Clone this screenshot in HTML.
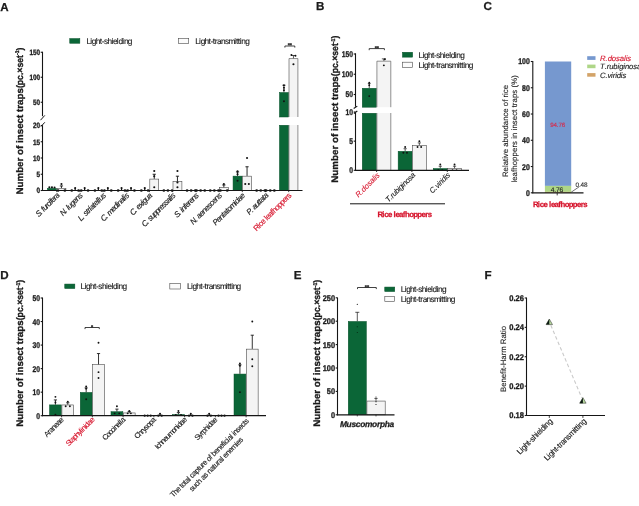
<!DOCTYPE html>
<html lang="en">
<head>
<meta charset="utf-8">
<title>Figure: insect trap counts under light-shielding and light-transmitting treatments</title>
<style>
html,body{margin:0;padding:0;background:#fff;}
body{width:639px;height:506px;overflow:hidden;font-family:"Liberation Sans",sans-serif;}
svg{display:block;will-change:transform;}
</style>
</head>
<body>
<svg width="639" height="506" viewBox="0 0 639 506" font-family="'Liberation Sans', sans-serif" fill="#1a1a1a" text-rendering="geometricPrecision">
<text x="0.2" y="10.5" font-size="11.6" font-weight="bold" stroke="#1a1a1a" stroke-width="0.25">A</text>
<rect x="69.75" y="38.55" width="10.1" height="4.7" fill="#0b6637" stroke="#07502a" stroke-width="0.5"/>
<text x="86.4 90.31 91.87 95.77 99.68 101.63 103.97 107.48 111.39 112.95 116.86 118.42 122.33 123.89 127.79" y="43.89" font-size="8.3" stroke="#1a1a1a" stroke-width="0.12">Light-shielding</text>
<rect x="178.3" y="38.3" width="10.4" height="5.2" fill="#fbfbfb" stroke="#4a4a4a" stroke-width="0.6"/>
<text x="195.2 199.12 200.68 204.6 208.51 210.47 212.81 214.77 217.11 221.03 224.94 228.46 234.33 235.89 237.85 239.8 241.37 245.28" y="43.89" font-size="8.3" stroke="#1a1a1a" stroke-width="0.12">Light-transmitting</text>
<line x1="42.5" y1="51.75" x2="42.5" y2="116.2" stroke="#151515" stroke-width="1.1"/>
<line x1="42.5" y1="125.3" x2="42.5" y2="191" stroke="#151515" stroke-width="1.1"/>
<line x1="40.5" y1="120.2" x2="44.8" y2="115.4" stroke="#151515" stroke-width="1"/>
<line x1="40.9" y1="126.6" x2="44.8" y2="122.3" stroke="#151515" stroke-width="1"/>
<line x1="40.7" y1="102.25" x2="42.5" y2="102.25" stroke="#151515" stroke-width="1.1"/>
<text x="33" y="105.06" font-size="7.8" font-weight="bold" textLength="7.1" lengthAdjust="spacingAndGlyphs" stroke="#1a1a1a" stroke-width="0.32">50</text>
<line x1="40.7" y1="77.25" x2="42.5" y2="77.25" stroke="#151515" stroke-width="1.1"/>
<text x="29.45" y="80.06" font-size="7.8" font-weight="bold" textLength="10.65" lengthAdjust="spacingAndGlyphs" stroke="#1a1a1a" stroke-width="0.32">100</text>
<line x1="40.7" y1="52.25" x2="42.5" y2="52.25" stroke="#151515" stroke-width="1.1"/>
<text x="29.45" y="55.06" font-size="7.8" font-weight="bold" textLength="10.65" lengthAdjust="spacingAndGlyphs" stroke="#1a1a1a" stroke-width="0.32">150</text>
<line x1="40.7" y1="190.5" x2="42.5" y2="190.5" stroke="#151515" stroke-width="1.1"/>
<text x="36.55" y="193.31" font-size="7.8" font-weight="bold" textLength="3.55" lengthAdjust="spacingAndGlyphs" stroke="#1a1a1a" stroke-width="0.32">0</text>
<line x1="40.7" y1="174.25" x2="42.5" y2="174.25" stroke="#151515" stroke-width="1.1"/>
<text x="36.55" y="177.06" font-size="7.8" font-weight="bold" textLength="3.55" lengthAdjust="spacingAndGlyphs" stroke="#1a1a1a" stroke-width="0.32">5</text>
<line x1="40.7" y1="158" x2="42.5" y2="158" stroke="#151515" stroke-width="1.1"/>
<text x="33" y="160.81" font-size="7.8" font-weight="bold" textLength="7.1" lengthAdjust="spacingAndGlyphs" stroke="#1a1a1a" stroke-width="0.32">10</text>
<line x1="40.7" y1="141.75" x2="42.5" y2="141.75" stroke="#151515" stroke-width="1.1"/>
<text x="33" y="144.56" font-size="7.8" font-weight="bold" textLength="7.1" lengthAdjust="spacingAndGlyphs" stroke="#1a1a1a" stroke-width="0.32">15</text>
<line x1="40.7" y1="125.5" x2="42.5" y2="125.5" stroke="#151515" stroke-width="1.1"/>
<text x="33" y="128.31" font-size="7.8" font-weight="bold" textLength="7.1" lengthAdjust="spacingAndGlyphs" stroke="#1a1a1a" stroke-width="0.32">20</text>
<text x="22.8" y="194.6" font-size="9.5" font-weight="bold" stroke="#1a1a1a" stroke-width="0.32" transform="rotate(-90 22.8 194.6)" lengthAdjust="spacingAndGlyphs" textLength="106.5">Number of insect traps</text>
<text x="129.3" y="194.6" font-size="9.5" font-weight="bold" stroke="#1a1a1a" stroke-width="0.32" transform="rotate(-90 22.8 194.6)" lengthAdjust="spacingAndGlyphs" textLength="40.5">(pc.×set<tspan dy="-3.3" font-size="5.6">-1</tspan><tspan dy="3.3">)</tspan></text>
<rect x="47.45" y="188.31" width="9" height="2.19" fill="#0b6637" stroke="#07502a" stroke-width="0.5"/>
<circle cx="49.35" cy="187.25" r="1.05" fill="#111"/>
<circle cx="51.95" cy="187.25" r="1.05" fill="#111"/>
<circle cx="54.55" cy="187.57" r="1.05" fill="#111"/>
<rect x="57" y="188.36" width="8.9" height="2.14" fill="#f4f4f4" stroke="#4a4a4a" stroke-width="0.6"/>
<line x1="61.45" y1="188.06" x2="61.45" y2="185.95" stroke="#111" stroke-width="0.9"/>
<line x1="59.85" y1="185.95" x2="63.05" y2="185.95" stroke="#111" stroke-width="0.9"/>
<circle cx="61.45" cy="184" r="1.05" fill="#111"/>
<circle cx="58.05" cy="190.5" r="1.35" fill="#111"/>
<circle cx="64.85" cy="190.5" r="1.35" fill="#111"/>
<line x1="56.7" y1="190.5" x2="56.7" y2="192.1" stroke="#151515" stroke-width="0.8"/>
<text x="30.1 34.17 35.86 37.56 39.26 42.65 44.68 47.73 49.09 50.78 54.17 56.21" y="196.4" font-size="7.9" font-style="italic" transform="rotate(-45 59.6 196.4)" stroke="#1a1a1a" stroke-width="0.15">S. furcifera</text>
<line x1="75.15" y1="190.5" x2="75.15" y2="188.06" stroke="#111" stroke-width="1.2"/>
<circle cx="75.15" cy="188.06" r="1.05" fill="#111"/>
<circle cx="71.75" cy="190.5" r="1.35" fill="#111"/>
<circle cx="78.55" cy="190.5" r="1.35" fill="#111"/>
<line x1="84.65" y1="190.5" x2="84.65" y2="188.06" stroke="#111" stroke-width="1.2"/>
<circle cx="84.65" cy="188.06" r="1.05" fill="#111"/>
<circle cx="81.25" cy="190.5" r="1.35" fill="#111"/>
<circle cx="88.05" cy="190.5" r="1.35" fill="#111"/>
<line x1="79.9" y1="190.5" x2="79.9" y2="192.1" stroke="#151515" stroke-width="0.8"/>
<text x="54.8 59.59 61.43 63.27 64.74 68.43 72.11 75.8 79.49" y="196.4" font-size="7.9" font-style="italic" transform="rotate(-45 82.8 196.4)" stroke="#1a1a1a" stroke-width="0.15">N. lugens</text>
<line x1="98.35" y1="190.5" x2="98.35" y2="188.06" stroke="#111" stroke-width="1.2"/>
<circle cx="98.35" cy="188.06" r="1.05" fill="#111"/>
<circle cx="94.95" cy="190.5" r="1.35" fill="#111"/>
<circle cx="101.75" cy="190.5" r="1.35" fill="#111"/>
<line x1="107.85" y1="190.5" x2="107.85" y2="188.06" stroke="#111" stroke-width="1.2"/>
<circle cx="107.85" cy="188.06" r="1.05" fill="#111"/>
<circle cx="104.45" cy="190.5" r="1.35" fill="#111"/>
<circle cx="111.25" cy="190.5" r="1.35" fill="#111"/>
<line x1="103.1" y1="190.5" x2="103.1" y2="192.1" stroke="#151515" stroke-width="0.8"/>
<text x="70.5 74.2 76.05 77.9 81.22 83.07 85.29 86.77 90.47 92.32 96.02 97.49 98.97 102.67" y="196.4" font-size="7.9" font-style="italic" transform="rotate(-45 106 196.4)" stroke="#1a1a1a" stroke-width="0.15">L. striatellus</text>
<line x1="121.55" y1="190.5" x2="121.55" y2="188.06" stroke="#111" stroke-width="1.2"/>
<circle cx="121.55" cy="188.06" r="1.05" fill="#111"/>
<circle cx="118.15" cy="190.5" r="1.35" fill="#111"/>
<circle cx="124.95" cy="190.5" r="1.35" fill="#111"/>
<line x1="131.05" y1="190.5" x2="131.05" y2="188.06" stroke="#111" stroke-width="1.2"/>
<circle cx="131.05" cy="188.06" r="1.05" fill="#111"/>
<circle cx="127.65" cy="190.5" r="1.35" fill="#111"/>
<circle cx="134.45" cy="190.5" r="1.35" fill="#111"/>
<line x1="126.3" y1="190.5" x2="126.3" y2="192.1" stroke="#151515" stroke-width="0.8"/>
<text x="93.2 97.93 99.74 101.56 107.01 110.65 114.29 115.74 119.38 123.02 124.47 125.93" y="196.4" font-size="7.9" font-style="italic" transform="rotate(-45 129.2 196.4)" stroke="#1a1a1a" stroke-width="0.15">C. medinalis</text>
<line x1="144.75" y1="190.5" x2="144.75" y2="188.06" stroke="#111" stroke-width="1.2"/>
<circle cx="144.75" cy="188.06" r="1.05" fill="#111"/>
<circle cx="141.35" cy="190.5" r="1.35" fill="#111"/>
<circle cx="148.15" cy="190.5" r="1.35" fill="#111"/>
<rect x="149.8" y="179.1" width="8.9" height="11.4" fill="#f4f4f4" stroke="#4a4a4a" stroke-width="0.6"/>
<line x1="154.25" y1="178.8" x2="154.25" y2="174.25" stroke="#111" stroke-width="0.9"/>
<line x1="152.65" y1="174.25" x2="155.85" y2="174.25" stroke="#111" stroke-width="0.9"/>
<circle cx="154.25" cy="171" r="1.05" fill="#111"/>
<circle cx="154.25" cy="176.2" r="1.05" fill="#111"/>
<circle cx="154.25" cy="187.25" r="1.05" fill="#111"/>
<line x1="149.5" y1="190.5" x2="149.5" y2="192.1" stroke="#151515" stroke-width="0.8"/>
<text x="124.9 129.6 131.41 133.22 136.84 140.09 141.54 145.16 148.78" y="196.4" font-size="7.9" font-style="italic" transform="rotate(-45 152.4 196.4)" stroke="#1a1a1a" stroke-width="0.15">C. exigua</text>
<circle cx="163.85" cy="190.5" r="1.35" fill="#111"/>
<circle cx="167.95" cy="190.5" r="1.35" fill="#111"/>
<circle cx="172.05" cy="190.5" r="1.35" fill="#111"/>
<rect x="173" y="181.38" width="8.9" height="9.13" fill="#f4f4f4" stroke="#4a4a4a" stroke-width="0.6"/>
<line x1="177.45" y1="181.07" x2="177.45" y2="176.2" stroke="#111" stroke-width="0.9"/>
<line x1="175.85" y1="176.2" x2="179.05" y2="176.2" stroke="#111" stroke-width="0.9"/>
<circle cx="177.45" cy="171" r="1.05" fill="#111"/>
<circle cx="177.45" cy="182.38" r="1.05" fill="#111"/>
<circle cx="177.45" cy="187.25" r="1.05" fill="#111"/>
<line x1="172.7" y1="190.5" x2="172.7" y2="192.1" stroke="#151515" stroke-width="0.8"/>
<text x="132.1 136.7 138.46 140.23 143.41 146.95 150.49 154.03 156.15 159.69 162.87 166.05 169.59 171 172.42" y="196.4" font-size="7.9" font-style="italic" transform="rotate(-45 175.6 196.4)" stroke="#1a1a1a" stroke-width="0.15">C. suppressalis</text>
<circle cx="187.05" cy="190.5" r="1.35" fill="#111"/>
<circle cx="191.15" cy="190.5" r="1.35" fill="#111"/>
<circle cx="195.25" cy="190.5" r="1.35" fill="#111"/>
<circle cx="196.55" cy="190.5" r="1.35" fill="#111"/>
<circle cx="200.65" cy="190.5" r="1.35" fill="#111"/>
<circle cx="204.75" cy="190.5" r="1.35" fill="#111"/>
<line x1="195.9" y1="190.5" x2="195.9" y2="192.1" stroke="#151515" stroke-width="0.8"/>
<text x="168.3 172.56 174.33 176.1 177.52 181.07 182.84 186.39 188.51 192.06 195.61" y="196.4" font-size="7.9" font-style="italic" transform="rotate(-45 198.8 196.4)" stroke="#1a1a1a" stroke-width="0.15">S. inferens</text>
<circle cx="210.25" cy="190.5" r="1.35" fill="#111"/>
<circle cx="214.35" cy="190.5" r="1.35" fill="#111"/>
<circle cx="218.45" cy="190.5" r="1.35" fill="#111"/>
<rect x="219.4" y="187.55" width="8.9" height="2.95" fill="#f4f4f4" stroke="#4a4a4a" stroke-width="0.6"/>
<line x1="223.85" y1="187.25" x2="223.85" y2="184.97" stroke="#111" stroke-width="0.9"/>
<line x1="222.25" y1="184.97" x2="225.45" y2="184.97" stroke="#111" stroke-width="0.9"/>
<circle cx="223.85" cy="184" r="1.05" fill="#111"/>
<circle cx="220.45" cy="190.5" r="1.35" fill="#111"/>
<circle cx="227.25" cy="190.5" r="1.35" fill="#111"/>
<line x1="219.1" y1="190.5" x2="219.1" y2="192.1" stroke="#151515" stroke-width="0.8"/>
<text x="181.5 186.28 188.12 189.96 193.65 197.33 201.01 204.7 208.01 211.32 215 218.69" y="196.4" font-size="7.9" font-style="italic" transform="rotate(-45 222 196.4)" stroke="#1a1a1a" stroke-width="0.15">N. aenescens</text>
<rect x="233.05" y="176.12" width="9" height="14.38" fill="#0b6637" stroke="#07502a" stroke-width="0.5"/>
<line x1="237.55" y1="175.88" x2="237.55" y2="171.97" stroke="#111" stroke-width="0.9"/>
<line x1="235.95" y1="171.97" x2="239.15" y2="171.97" stroke="#111" stroke-width="0.9"/>
<circle cx="237.55" cy="174.25" r="1.05" fill="#111"/>
<circle cx="237.55" cy="171.32" r="1.05" fill="#111"/>
<circle cx="237.55" cy="180.75" r="1.05" fill="#111"/>
<rect x="242.6" y="176.18" width="8.9" height="14.32" fill="#f4f4f4" stroke="#4a4a4a" stroke-width="0.6"/>
<line x1="247.05" y1="175.88" x2="247.05" y2="166.78" stroke="#111" stroke-width="0.9"/>
<line x1="245.45" y1="166.78" x2="248.65" y2="166.78" stroke="#111" stroke-width="0.9"/>
<circle cx="247.05" cy="158" r="1.05" fill="#111"/>
<circle cx="245.25" cy="184" r="1.05" fill="#111"/>
<circle cx="248.85" cy="184" r="1.05" fill="#111"/>
<line x1="242.3" y1="190.5" x2="242.3" y2="192.1" stroke="#151515" stroke-width="0.8"/>
<text x="203.7 208.19 211.93 215.67 217.53 221.27 223.14 226.88 232.49 233.98 237.72 241.46" y="196.4" font-size="7.9" font-style="italic" transform="rotate(-45 245.2 196.4)" stroke="#1a1a1a" stroke-width="0.15">Pentatomidae</text>
<circle cx="256.65" cy="190.5" r="1.35" fill="#111"/>
<circle cx="260.75" cy="190.5" r="1.35" fill="#111"/>
<circle cx="264.85" cy="190.5" r="1.35" fill="#111"/>
<circle cx="266.15" cy="190.5" r="1.35" fill="#111"/>
<circle cx="270.25" cy="190.5" r="1.35" fill="#111"/>
<circle cx="274.35" cy="190.5" r="1.35" fill="#111"/>
<line x1="265.5" y1="190.5" x2="265.5" y2="192.1" stroke="#151515" stroke-width="0.8"/>
<text x="241.6 245.78 247.52 249.25 252.74 256.22 257.96 259.7 263.18 264.92" y="196.4" font-size="7.9" font-style="italic" transform="rotate(-45 268.4 196.4)" stroke="#1a1a1a" stroke-width="0.15">P. auttata</text>
<rect x="279.45" y="125.25" width="9" height="65.25" fill="#0b6637" stroke="#07502a" stroke-width="0.5"/>
<rect x="289" y="125" width="8.9" height="65.5" fill="#f4f4f4"/>
<line x1="289" y1="125" x2="289" y2="190.5" stroke="#4a4a4a" stroke-width="0.6"/>
<line x1="297.9" y1="125" x2="297.9" y2="190.5" stroke="#4a4a4a" stroke-width="0.6"/>
<rect x="279.45" y="92.5" width="9" height="24.5" fill="#0b6637" stroke="#07502a" stroke-width="0.5"/>
<rect x="289" y="58.55" width="8.9" height="58.45" fill="#f4f4f4"/>
<path d="M289 117 V58.55 H297.9 V117" fill="none" stroke="#4a4a4a" stroke-width="0.6"/>
<line x1="283.95" y1="92.25" x2="283.95" y2="85.25" stroke="#111" stroke-width="0.7"/>
<line x1="282.35" y1="85.25" x2="285.55" y2="85.25" stroke="#111" stroke-width="0.7"/>
<circle cx="283.95" cy="101.25" r="1" fill="#111"/>
<circle cx="283.95" cy="90.25" r="1" fill="#111"/>
<circle cx="283.95" cy="87.75" r="1" fill="#111"/>
<circle cx="283.95" cy="85.25" r="1" fill="#111"/>
<line x1="293.45" y1="58.25" x2="293.45" y2="55.5" stroke="#111" stroke-width="0.7"/>
<line x1="291.25" y1="55.5" x2="295.65" y2="55.5" stroke="#111" stroke-width="0.7"/>
<circle cx="291.45" cy="55" r="1" fill="#111"/>
<circle cx="295.45" cy="55.75" r="1" fill="#111"/>
<circle cx="293.45" cy="64.25" r="1.05" fill="#111"/>
<line x1="288.7" y1="190.5" x2="288.7" y2="192.1" stroke="#151515" stroke-width="0.8"/>
<text x="242.1 246.86 248.33 251.63 255.3 257.13 258.59 262.26 265.93 267.76 271.43 275.1 278.77 282.44 286.11 288.3" y="196.4" font-size="7.9" fill="#d6142c" transform="rotate(-45 291.6 196.4)" stroke="#d6142c" stroke-width="0.15">Rice leafhoppers</text>
<line x1="42" y1="190.5" x2="302.5" y2="190.5" stroke="#151515" stroke-width="1.2"/>
<path d="M284.9 47.6 V46 H294.8 V47.6" fill="none" stroke="#111" stroke-width="0.8"/>
<text x="289.85" y="47.2" font-size="5.5" font-weight="bold" text-anchor="middle" stroke="#1a1a1a" stroke-width="0.25">**</text>
<text x="316" y="10.4" font-size="11.6" font-weight="bold" stroke="#1a1a1a" stroke-width="0.25">B</text>
<line x1="355.5" y1="53.3" x2="355.5" y2="106.8" stroke="#151515" stroke-width="1.1"/>
<line x1="355.5" y1="113" x2="355.5" y2="170.8" stroke="#151515" stroke-width="1.1"/>
<line x1="353.7" y1="108.5" x2="357.3" y2="106.1" stroke="#151515" stroke-width="1.1"/>
<line x1="353.9" y1="113.5" x2="357.3" y2="111" stroke="#151515" stroke-width="1.1"/>
<line x1="353.7" y1="94.5" x2="355.5" y2="94.5" stroke="#151515" stroke-width="1.1"/>
<text x="345.5" y="97.49" font-size="8.3" font-weight="bold" textLength="7.5" lengthAdjust="spacingAndGlyphs" stroke="#1a1a1a" stroke-width="0.32">50</text>
<line x1="353.7" y1="74.25" x2="355.5" y2="74.25" stroke="#151515" stroke-width="1.1"/>
<text x="341.75" y="77.24" font-size="8.3" font-weight="bold" textLength="11.25" lengthAdjust="spacingAndGlyphs" stroke="#1a1a1a" stroke-width="0.32">100</text>
<line x1="353.7" y1="54" x2="355.5" y2="54" stroke="#151515" stroke-width="1.1"/>
<text x="341.75" y="56.99" font-size="8.3" font-weight="bold" textLength="11.25" lengthAdjust="spacingAndGlyphs" stroke="#1a1a1a" stroke-width="0.32">150</text>
<line x1="353.7" y1="170.3" x2="355.5" y2="170.3" stroke="#151515" stroke-width="1.1"/>
<text x="349.25" y="173.29" font-size="8.3" font-weight="bold" textLength="3.75" lengthAdjust="spacingAndGlyphs" stroke="#1a1a1a" stroke-width="0.32">0</text>
<line x1="353.7" y1="141.15" x2="355.5" y2="141.15" stroke="#151515" stroke-width="1.1"/>
<text x="349.25" y="144.14" font-size="8.3" font-weight="bold" textLength="3.75" lengthAdjust="spacingAndGlyphs" stroke="#1a1a1a" stroke-width="0.32">5</text>
<line x1="353.7" y1="112" x2="355.5" y2="112" stroke="#151515" stroke-width="1.1"/>
<text x="345.5" y="114.69" font-size="8.3" font-weight="bold" textLength="7.5" lengthAdjust="spacingAndGlyphs" stroke="#1a1a1a" stroke-width="0.32">10</text>
<text x="338.3" y="182.7" font-size="9.5" font-weight="bold" stroke="#1a1a1a" stroke-width="0.32" transform="rotate(-90 338.3 182.7)" lengthAdjust="spacingAndGlyphs" textLength="106.5">Number of insect traps</text>
<text x="444.8" y="182.7" font-size="9.5" font-weight="bold" stroke="#1a1a1a" stroke-width="0.32" transform="rotate(-90 338.3 182.7)" lengthAdjust="spacingAndGlyphs" textLength="40.5">(pc.×set<tspan dy="-3.3" font-size="5.6">-1</tspan><tspan dy="3.3">)</tspan></text>
<rect x="362.25" y="113.25" width="14" height="57.05" fill="#0b6637" stroke="#07502a" stroke-width="0.5"/>
<rect x="376.9" y="113" width="13.9" height="57.3" fill="#f4f4f4"/>
<line x1="376.9" y1="113" x2="376.9" y2="170.3" stroke="#4a4a4a" stroke-width="0.6"/>
<line x1="390.8" y1="113" x2="390.8" y2="170.3" stroke="#4a4a4a" stroke-width="0.6"/>
<rect x="362.25" y="88.27" width="14" height="18.93" fill="#0b6637" stroke="#07502a" stroke-width="0.5"/>
<rect x="376.9" y="61.18" width="13.9" height="46.02" fill="#f4f4f4"/>
<path d="M376.9 107.2 V61.18 H390.8 V107.2" fill="none" stroke="#4a4a4a" stroke-width="0.6"/>
<line x1="369.25" y1="88.02" x2="369.25" y2="83.56" stroke="#111" stroke-width="0.7"/>
<line x1="367.85" y1="83.56" x2="370.65" y2="83.56" stroke="#111" stroke-width="0.7"/>
<circle cx="369.25" cy="82.75" r="0.95" fill="#111"/>
<circle cx="369.25" cy="85.19" r="0.95" fill="#111"/>
<circle cx="369.25" cy="96.12" r="0.95" fill="#111"/>
<line x1="383.85" y1="60.88" x2="383.85" y2="58.86" stroke="#111" stroke-width="0.7"/>
<line x1="381.85" y1="58.86" x2="385.85" y2="58.86" stroke="#111" stroke-width="0.7"/>
<circle cx="384.85" cy="59.27" r="0.95" fill="#111"/>
<circle cx="383.85" cy="65.34" r="0.95" fill="#111"/>
<rect x="398.15" y="151.31" width="14" height="18.99" fill="#0b6637" stroke="#07502a" stroke-width="0.5"/>
<rect x="412.4" y="145.53" width="13.9" height="24.77" fill="#f4f4f4" stroke="#4a4a4a" stroke-width="0.6"/>
<line x1="405.15" y1="151.06" x2="405.15" y2="148.73" stroke="#111" stroke-width="0.7"/>
<line x1="403.55" y1="148.73" x2="406.75" y2="148.73" stroke="#111" stroke-width="0.7"/>
<line x1="419.35" y1="145.23" x2="419.35" y2="142.9" stroke="#111" stroke-width="0.7"/>
<line x1="417.75" y1="142.9" x2="420.95" y2="142.9" stroke="#111" stroke-width="0.7"/>
<circle cx="405.15" cy="146.98" r="0.95" fill="#111"/>
<circle cx="403.35" cy="152.81" r="0.95" fill="#111"/>
<circle cx="406.95" cy="152.81" r="0.95" fill="#111"/>
<circle cx="419.35" cy="141.15" r="0.95" fill="#111"/>
<circle cx="417.55" cy="146.98" r="0.95" fill="#111"/>
<circle cx="421.15" cy="146.98" r="0.95" fill="#111"/>
<rect x="433.25" y="168.51" width="14" height="1.79" fill="#0b6637" stroke="#07502a" stroke-width="0.5"/>
<rect x="447.6" y="168.56" width="13.9" height="1.74" fill="#f4f4f4" stroke="#4a4a4a" stroke-width="0.6"/>
<line x1="440.25" y1="168.26" x2="440.25" y2="166.22" stroke="#111" stroke-width="0.7"/>
<line x1="438.65" y1="166.22" x2="441.85" y2="166.22" stroke="#111" stroke-width="0.7"/>
<circle cx="440.25" cy="164.47" r="0.95" fill="#111"/>
<circle cx="438.25" cy="170" r="0.85" fill="#111"/>
<circle cx="442.25" cy="170" r="0.85" fill="#111"/>
<line x1="454.55" y1="168.26" x2="454.55" y2="166.22" stroke="#111" stroke-width="0.7"/>
<line x1="452.95" y1="166.22" x2="456.15" y2="166.22" stroke="#111" stroke-width="0.7"/>
<circle cx="454.55" cy="164.47" r="0.95" fill="#111"/>
<circle cx="452.55" cy="170" r="0.85" fill="#111"/>
<circle cx="456.55" cy="170" r="0.85" fill="#111"/>
<line x1="376.6" y1="170.3" x2="376.6" y2="171.9" stroke="#151515" stroke-width="0.95"/>
<line x1="411.9" y1="170.3" x2="411.9" y2="171.9" stroke="#151515" stroke-width="0.95"/>
<line x1="447.3" y1="170.3" x2="447.3" y2="171.9" stroke="#151515" stroke-width="0.95"/>
<text x="349.3 354.74 356.84 361.03 365.22 368.99 373.18 374.86 376.53" y="175.8" font-size="7.7" font-style="italic" fill="#d6142c" transform="rotate(-45 380.3 175.8)" stroke="#d6142c" stroke-width="0.1">R.dosalis</text>
<text x="377.4 381.64 383.57 385.88 389.74 393.6 395.14 399 400.55 404.41 408.27 411.74" y="175.8" font-size="7.7" font-style="italic" transform="rotate(-45 415.6 175.8)" stroke="#1a1a1a" stroke-width="0.1">T.rubiginosa</text>
<text x="425.1 430.28 432.27 435.86 437.45 439.84 441.43 445.42 447.01" y="175.8" font-size="7.7" font-style="italic" transform="rotate(-45 450.6 175.8)" stroke="#1a1a1a" stroke-width="0.1">C.viridis</text>
<line x1="355" y1="170.3" x2="469" y2="170.3" stroke="#151515" stroke-width="1.2"/>
<line x1="350" y1="203.8" x2="445" y2="203.8" stroke="#151515" stroke-width="1"/>
<text x="377.5 382.34 384.2 387.93 391.66 393.52 395.38 399.11 402.83 405.06 409.16 413.25 417.34 421.44 425.17 427.77" y="216.5" font-size="7.8" font-weight="bold" fill="#d6142c" stroke="#d6142c" stroke-width="0.25">Rice leafhoppers</text>
<path d="M369.2 50.2 V48.6 H384.4 V50.2" fill="none" stroke="#111" stroke-width="0.8"/>
<text x="376.8" y="49.8" font-size="5.5" font-weight="bold" text-anchor="middle" stroke="#1a1a1a" stroke-width="0.25">**</text>
<rect x="402.45" y="52.25" width="10.2" height="4.9" fill="#0b6637" stroke="#07502a" stroke-width="0.5"/>
<text x="418.6 422.52 424.09 428.02 431.94 433.9 436.25 439.78 443.7 445.27 449.19 450.76 454.68 456.25 460.18" y="57.69" font-size="8.3" stroke="#1a1a1a" stroke-width="0.12">Light-shielding</text>
<rect x="402.5" y="62.2" width="10.1" height="5.1" fill="#fbfbfb" stroke="#4a4a4a" stroke-width="0.6"/>
<text x="418.6 422.52 424.08 428 431.91 433.87 436.21 438.17 440.51 444.43 448.34 451.86 457.73 459.29 461.25 463.2 464.77 468.68" y="67.74" font-size="8.3" stroke="#1a1a1a" stroke-width="0.12">Light-transmitting</text>
<text x="483.4" y="10.4" font-size="11.6" font-weight="bold" stroke="#1a1a1a" stroke-width="0.25">C</text>
<line x1="532.8" y1="61.05" x2="532.8" y2="193.35" stroke="#151515" stroke-width="1.1"/>
<line x1="530.8" y1="192.8" x2="532.8" y2="192.8" stroke="#151515" stroke-width="1.1"/>
<text x="525.95" y="195.79" font-size="8.3" font-weight="bold" textLength="3.85" lengthAdjust="spacingAndGlyphs" stroke="#1a1a1a" stroke-width="0.32">0</text>
<line x1="530.8" y1="166.54" x2="532.8" y2="166.54" stroke="#151515" stroke-width="1.1"/>
<text x="522.1" y="169.53" font-size="8.3" font-weight="bold" textLength="7.7" lengthAdjust="spacingAndGlyphs" stroke="#1a1a1a" stroke-width="0.32">20</text>
<line x1="530.8" y1="140.28" x2="532.8" y2="140.28" stroke="#151515" stroke-width="1.1"/>
<text x="522.1" y="143.27" font-size="8.3" font-weight="bold" textLength="7.7" lengthAdjust="spacingAndGlyphs" stroke="#1a1a1a" stroke-width="0.32">40</text>
<line x1="530.8" y1="114.02" x2="532.8" y2="114.02" stroke="#151515" stroke-width="1.1"/>
<text x="522.1" y="117.01" font-size="8.3" font-weight="bold" textLength="7.7" lengthAdjust="spacingAndGlyphs" stroke="#1a1a1a" stroke-width="0.32">60</text>
<line x1="530.8" y1="87.76" x2="532.8" y2="87.76" stroke="#151515" stroke-width="1.1"/>
<text x="522.1" y="90.75" font-size="8.3" font-weight="bold" textLength="7.7" lengthAdjust="spacingAndGlyphs" stroke="#1a1a1a" stroke-width="0.32">80</text>
<line x1="530.8" y1="61.5" x2="532.8" y2="61.5" stroke="#151515" stroke-width="1.1"/>
<text x="518.25" y="64.49" font-size="8.3" font-weight="bold" textLength="11.55" lengthAdjust="spacingAndGlyphs" stroke="#1a1a1a" stroke-width="0.32">100</text>
<rect x="544.9" y="61.5" width="26.3" height="124.4" fill="#7698cf"/>
<rect x="544.9" y="185.9" width="26.3" height="6" fill="#aed687"/>
<rect x="544.9" y="191.9" width="26.3" height="0.9" fill="#d3a368"/>
<line x1="532.35" y1="192.8" x2="583.5" y2="192.8" stroke="#151515" stroke-width="1.25"/>
<line x1="557.2" y1="192.8" x2="557.2" y2="195.4" stroke="#151515" stroke-width="0.8"/>
<text x="550.2 553.53 556.87 558.53 561.87" y="127.2" font-size="6.2" fill="#d8284a" stroke="#d8284a" stroke-width="0.12">94.76</text>
<text x="550.8 554.29 556.03 559.51" y="191.5" font-size="6.6" stroke="#1a1a1a" stroke-width="0.12">4.76</text>
<line x1="571.2" y1="192.2" x2="579" y2="186.9" stroke="#333" stroke-width="0.7"/>
<text x="575.6 578.91 580.57 583.89" y="186.7" font-size="6.4" fill="#2a2a2a" stroke="#2a2a2a" stroke-width="0.12">0.48</text>
<text x="533 537.84 539.7 543.43 547.16 549.02 550.88 554.61 558.33 560.56 564.66 568.75 572.84 576.94 580.67 583.27" y="207" font-size="7.8" font-weight="bold" fill="#d6142c" stroke="#d6142c" stroke-width="0.25">Rice leafhoppers</text>
<text x="462.3 467.91 472.23 473.96 478.28 480.44 482.16 486.05 490.37 492.53 496.85 501.17 505.49 509.81 514.13 518.46 522.78 526.66 530.98 533.14 537.46 539.62 541.78 544.37 546.09 549.98" y="131" font-size="7.8" transform="rotate(-90 508.3 131)" stroke="#1a1a1a" stroke-width="0.12">Relative abundance of rice</text>
<text x="463.45 465.22 469.64 474.07 476.28 480.71 485.14 489.56 493.99 498.42 501.07 505.05 507.26 509.03 513.45 515.66 517.43 521.86 525.84 530.26 534.24 536.45 538.67 540.88 543.53 547.95 552.38 556.36 558.57 561.22 568.3" y="128.8" font-size="7.8" transform="rotate(-90 517.2 128.8)" stroke="#1a1a1a" stroke-width="0.12">leafhoppers in insect traps (%)</text>
<rect x="587.2" y="56.2" width="8.3" height="3.7" fill="#7698cf"/>
<rect x="587.2" y="64.6" width="8.3" height="3.6" fill="#aed687"/>
<rect x="587.2" y="73.1" width="8.3" height="3.6" fill="#d3a368"/>
<text x="600.1 605.54 607.64 611.83 616.02 619.79 623.98 625.66 627.33" y="60.9" font-size="7.7" font-style="italic" fill="#d6142c" stroke="#d6142c" stroke-width="0.12">R.dosalis</text>
<text x="600.1 604.65 606.72 609.2 613.35 617.49 619.14 623.29 624.94 629.09 633.23 636.96" y="69.4" font-size="7.7" font-style="italic" stroke="#1a1a1a" stroke-width="0.12">T.rubiginosa</text>
<text x="600.1 605.38 607.41 611.07 612.69 615.13 616.75 620.82 622.44" y="77.8" font-size="7.7" font-style="italic" stroke="#1a1a1a" stroke-width="0.12">C.viridis</text>
<text x="0.3" y="278.8" font-size="11.6" font-weight="bold" stroke="#1a1a1a" stroke-width="0.25">D</text>
<rect x="64.75" y="284.05" width="10.1" height="4.5" fill="#0b6637" stroke="#07502a" stroke-width="0.5"/>
<text x="80.5 84.47 86.05 90.02 93.99 95.97 98.34 101.91 105.88 107.46 111.43 113.01 116.98 118.57 122.53" y="289.29" font-size="8.3" stroke="#1a1a1a" stroke-width="0.12">Light-shielding</text>
<rect x="169.8" y="283.6" width="10.7" height="5.4" fill="#fbfbfb" stroke="#4a4a4a" stroke-width="0.6"/>
<text x="187 190.88 192.43 196.31 200.19 202.13 204.45 206.39 208.71 212.59 216.47 219.96 225.77 227.32 229.25 231.19 232.74 236.62" y="289.29" font-size="8.3" stroke="#1a1a1a" stroke-width="0.12">Light-transmitting</text>
<line x1="42.5" y1="297.55" x2="42.5" y2="416.15" stroke="#151515" stroke-width="1.1"/>
<line x1="40.7" y1="415.7" x2="42.5" y2="415.7" stroke="#151515" stroke-width="1.1"/>
<text x="36.25" y="418.69" font-size="8.3" font-weight="bold" textLength="3.75" lengthAdjust="spacingAndGlyphs" stroke="#1a1a1a" stroke-width="0.32">0</text>
<line x1="40.7" y1="392.16" x2="42.5" y2="392.16" stroke="#151515" stroke-width="1.1"/>
<text x="32.5" y="395.15" font-size="8.3" font-weight="bold" textLength="7.5" lengthAdjust="spacingAndGlyphs" stroke="#1a1a1a" stroke-width="0.32">10</text>
<line x1="40.7" y1="368.62" x2="42.5" y2="368.62" stroke="#151515" stroke-width="1.1"/>
<text x="32.5" y="371.61" font-size="8.3" font-weight="bold" textLength="7.5" lengthAdjust="spacingAndGlyphs" stroke="#1a1a1a" stroke-width="0.32">20</text>
<line x1="40.7" y1="345.08" x2="42.5" y2="345.08" stroke="#151515" stroke-width="1.1"/>
<text x="32.5" y="348.07" font-size="8.3" font-weight="bold" textLength="7.5" lengthAdjust="spacingAndGlyphs" stroke="#1a1a1a" stroke-width="0.32">30</text>
<line x1="40.7" y1="321.54" x2="42.5" y2="321.54" stroke="#151515" stroke-width="1.1"/>
<text x="32.5" y="324.53" font-size="8.3" font-weight="bold" textLength="7.5" lengthAdjust="spacingAndGlyphs" stroke="#1a1a1a" stroke-width="0.32">40</text>
<line x1="40.7" y1="298" x2="42.5" y2="298" stroke="#151515" stroke-width="1.1"/>
<text x="32.5" y="300.99" font-size="8.3" font-weight="bold" textLength="7.5" lengthAdjust="spacingAndGlyphs" stroke="#1a1a1a" stroke-width="0.32">50</text>
<text x="22.8" y="426.8" font-size="9.5" font-weight="bold" stroke="#1a1a1a" stroke-width="0.32" transform="rotate(-90 22.8 426.8)" lengthAdjust="spacingAndGlyphs" textLength="106.5">Number of insect traps</text>
<text x="129.3" y="426.8" font-size="9.5" font-weight="bold" stroke="#1a1a1a" stroke-width="0.32" transform="rotate(-90 22.8 426.8)" lengthAdjust="spacingAndGlyphs" textLength="40.5">(pc.×set<tspan dy="-3.3" font-size="5.6">-1</tspan><tspan dy="3.3">)</tspan></text>
<rect x="49.5" y="404.89" width="11.85" height="10.81" fill="#0b6637" stroke="#07502a" stroke-width="0.5"/>
<line x1="55.42" y1="404.64" x2="55.42" y2="399.93" stroke="#111" stroke-width="0.85"/>
<line x1="53.82" y1="399.93" x2="57.02" y2="399.93" stroke="#111" stroke-width="0.85"/>
<circle cx="55.42" cy="414.76" r="0.95" fill="#111"/>
<circle cx="55.42" cy="402.52" r="0.95" fill="#111"/>
<circle cx="55.42" cy="396.87" r="0.95" fill="#111"/>
<rect x="61.9" y="404.94" width="11.75" height="10.76" fill="#f4f4f4" stroke="#4a4a4a" stroke-width="0.6"/>
<line x1="67.78" y1="404.64" x2="67.78" y2="402.75" stroke="#111" stroke-width="0.85"/>
<line x1="66.18" y1="402.75" x2="69.38" y2="402.75" stroke="#111" stroke-width="0.85"/>
<circle cx="65.68" cy="406.28" r="0.95" fill="#111"/>
<circle cx="69.88" cy="406.28" r="0.95" fill="#111"/>
<circle cx="67.78" cy="401.58" r="0.95" fill="#111"/>
<line x1="61.6" y1="415.7" x2="61.6" y2="417.3" stroke="#151515" stroke-width="0.8"/>
<text x="40.1 44.28 46.37 49.85 53.34 56.83 60.31" y="420.7" font-size="7.6" transform="rotate(-45 63.8 420.7)" stroke="#1a1a1a" stroke-width="0.12">Araneae</text>
<rect x="80.25" y="392.41" width="11.85" height="23.29" fill="#0b6637" stroke="#07502a" stroke-width="0.5"/>
<line x1="86.17" y1="392.16" x2="86.17" y2="387.92" stroke="#111" stroke-width="0.85"/>
<line x1="84.58" y1="387.92" x2="87.77" y2="387.92" stroke="#111" stroke-width="0.85"/>
<circle cx="86.17" cy="399.22" r="0.95" fill="#111"/>
<circle cx="86.17" cy="388.63" r="0.95" fill="#111"/>
<circle cx="86.17" cy="386.51" r="0.95" fill="#111"/>
<rect x="92.65" y="364.68" width="11.75" height="51.02" fill="#f4f4f4" stroke="#4a4a4a" stroke-width="0.6"/>
<line x1="98.52" y1="364.38" x2="98.52" y2="353.55" stroke="#111" stroke-width="0.85"/>
<line x1="96.92" y1="353.55" x2="100.12" y2="353.55" stroke="#111" stroke-width="0.85"/>
<circle cx="98.52" cy="378.04" r="0.95" fill="#111"/>
<circle cx="98.52" cy="372.15" r="0.95" fill="#111"/>
<circle cx="98.52" cy="342.73" r="0.95" fill="#111"/>
<line x1="92.35" y1="415.7" x2="92.35" y2="417.3" stroke="#151515" stroke-width="0.8"/>
<text x="57.95 62.02 63.71 67.1 70.49 73.88 76.93 78.28 79.64 83.03 84.38 87.77 91.16" y="420.7" font-size="7.6" fill="#d6142c" transform="rotate(-45 94.55 420.7)" stroke="#d6142c" stroke-width="0.12">Staphylinidae</text>
<rect x="111" y="411.71" width="11.85" height="3.99" fill="#0b6637" stroke="#07502a" stroke-width="0.5"/>
<line x1="116.92" y1="411.46" x2="116.92" y2="409.11" stroke="#111" stroke-width="0.85"/>
<line x1="115.33" y1="409.11" x2="118.52" y2="409.11" stroke="#111" stroke-width="0.85"/>
<circle cx="114.62" cy="413.35" r="0.95" fill="#111"/>
<circle cx="119.22" cy="413.35" r="0.95" fill="#111"/>
<circle cx="116.92" cy="406.28" r="0.95" fill="#111"/>
<rect x="123.4" y="412.94" width="11.75" height="2.76" fill="#f4f4f4" stroke="#4a4a4a" stroke-width="0.6"/>
<line x1="129.28" y1="412.64" x2="129.28" y2="411.7" stroke="#111" stroke-width="0.85"/>
<line x1="127.68" y1="411.7" x2="130.88" y2="411.7" stroke="#111" stroke-width="0.85"/>
<circle cx="127.68" cy="413.35" r="0.95" fill="#111"/>
<circle cx="130.88" cy="413.35" r="0.95" fill="#111"/>
<circle cx="129.28" cy="410.99" r="0.95" fill="#111"/>
<line x1="123.1" y1="415.7" x2="123.1" y2="417.3" stroke="#151515" stroke-width="0.8"/>
<text x="97.1 101.51 104.91 107.97 111.03 112.38 115.78 119.18 120.54 121.9" y="420.7" font-size="7.6" transform="rotate(-45 125.3 420.7)" stroke="#1a1a1a" stroke-width="0.12">Coccinella</text>
<circle cx="144.68" cy="415.7" r="1.1" fill="#111"/>
<circle cx="147.68" cy="415.7" r="1.1" fill="#111"/>
<circle cx="150.68" cy="415.7" r="1.1" fill="#111"/>
<rect x="153.85" y="415.11" width="12.35" height="0.59" fill="#9a9a9a"/>
<line x1="160.03" y1="415.7" x2="160.03" y2="413.58" stroke="#111" stroke-width="1.3"/>
<circle cx="160.03" cy="413.58" r="0.95" fill="#111"/>
<circle cx="158.33" cy="415.7" r="1.1" fill="#111"/>
<circle cx="161.72" cy="415.7" r="1.1" fill="#111"/>
<line x1="153.85" y1="415.7" x2="153.85" y2="417.3" stroke="#151515" stroke-width="0.8"/>
<text x="129.65 134.1 137.54 139.59 142.67 145.76 149.19 152.62" y="420.7" font-size="7.6" transform="rotate(-45 156.05 420.7)" stroke="#1a1a1a" stroke-width="0.12">Chrysopa</text>
<rect x="172.5" y="414.54" width="11.85" height="1.16" fill="#0b6637" stroke="#07502a" stroke-width="0.5"/>
<line x1="178.43" y1="414.29" x2="178.43" y2="412.64" stroke="#111" stroke-width="0.85"/>
<line x1="176.83" y1="412.64" x2="180.03" y2="412.64" stroke="#111" stroke-width="0.85"/>
<circle cx="178.43" cy="410.99" r="0.95" fill="#111"/>
<circle cx="175.83" cy="414.99" r="0.95" fill="#111"/>
<circle cx="181.03" cy="414.99" r="0.95" fill="#111"/>
<line x1="190.78" y1="415.7" x2="190.78" y2="413.58" stroke="#111" stroke-width="1.3"/>
<circle cx="190.78" cy="413.58" r="0.95" fill="#111"/>
<circle cx="189.08" cy="415.7" r="1.1" fill="#111"/>
<circle cx="192.47" cy="415.7" r="1.1" fill="#111"/>
<line x1="184.6" y1="415.7" x2="184.6" y2="417.3" stroke="#151515" stroke-width="0.8"/>
<text x="145.6 147.27 150.29 153.64 156.99 160.34 163.69 168.71 172.06 175.41 176.75 180.1 183.45" y="420.7" font-size="7.6" transform="rotate(-45 186.8 420.7)" stroke="#1a1a1a" stroke-width="0.12">Ichneumonidae</text>
<rect x="203.25" y="415.24" width="11.85" height="0.46" fill="#0b6637" stroke="#07502a" stroke-width="0.5"/>
<line x1="209.18" y1="415.7" x2="209.18" y2="413.58" stroke="#111" stroke-width="1.3"/>
<circle cx="209.18" cy="413.58" r="0.95" fill="#111"/>
<circle cx="207.48" cy="415.7" r="1.1" fill="#111"/>
<circle cx="210.88" cy="415.7" r="1.1" fill="#111"/>
<circle cx="218.53" cy="415.7" r="1.1" fill="#111"/>
<circle cx="221.53" cy="415.7" r="1.1" fill="#111"/>
<circle cx="224.53" cy="415.7" r="1.1" fill="#111"/>
<line x1="215.35" y1="415.7" x2="215.35" y2="417.3" stroke="#151515" stroke-width="0.8"/>
<text x="189.35 193.53 196.66 198.74 202.23 205.71 207.1 210.58 214.07" y="420.7" font-size="7.6" transform="rotate(-45 217.55 420.7)" stroke="#1a1a1a" stroke-width="0.12">Syrphidae</text>
<rect x="234" y="374.05" width="11.85" height="41.65" fill="#0b6637" stroke="#07502a" stroke-width="0.5"/>
<line x1="239.93" y1="373.8" x2="239.93" y2="364.85" stroke="#111" stroke-width="0.85"/>
<line x1="238.33" y1="364.85" x2="241.53" y2="364.85" stroke="#111" stroke-width="0.85"/>
<circle cx="239.93" cy="392.16" r="0.95" fill="#111"/>
<circle cx="239.93" cy="365.8" r="0.95" fill="#111"/>
<circle cx="239.93" cy="363.44" r="0.95" fill="#111"/>
<rect x="246.4" y="349.15" width="11.75" height="66.55" fill="#f4f4f4" stroke="#4a4a4a" stroke-width="0.6"/>
<line x1="252.28" y1="348.85" x2="252.28" y2="335.19" stroke="#111" stroke-width="0.85"/>
<line x1="250.68" y1="335.19" x2="253.88" y2="335.19" stroke="#111" stroke-width="0.85"/>
<circle cx="252.28" cy="366.27" r="0.95" fill="#111"/>
<circle cx="252.28" cy="359.2" r="0.95" fill="#111"/>
<circle cx="252.28" cy="321.54" r="0.95" fill="#111"/>
<line x1="246.1" y1="415.7" x2="246.1" y2="417.3" stroke="#151515" stroke-width="0.8"/>
<text x="141.6 145.58 149.2 152.82 154.63 156.44 160.06 161.87 165.49 166.94 168.75 172 175.62 179.24 181.05 184.68 186.84 190.46 192.27 195.9 197.7 199.51 203.13 206.76 210.38 214 215.81 217.25 220.51 221.96 225.58 227.03 228.83 230.28 233.9 237.16 240.78 244.04 245.84" y="421.7" font-size="7.6" transform="rotate(-45 249.1 421.7)" stroke="#1a1a1a" stroke-width="0.12">The total capture of beneficial insects</text>
<text x="170.95 174.29 178.01 181.36 185.08 186.94 190.66 194 195.86 199.58 203.3 205.16 208.88 211.1 214.82 216.31 218.17 221.89 225.61 229.33 234.9 236.39 240.11" y="440.5" font-size="7.6" transform="rotate(-45 243.45 440.5)" stroke="#1a1a1a" stroke-width="0.12">such as natural enemies</text>
<line x1="42" y1="415.7" x2="266" y2="415.7" stroke="#151515" stroke-width="1.2"/>
<path d="M85 329.1 V327.5 H99.3 V329.1" fill="none" stroke="#111" stroke-width="0.8"/>
<text x="92.15" y="328.7" font-size="5.5" font-weight="bold" text-anchor="middle" stroke="#1a1a1a" stroke-width="0.25">*</text>
<text x="293.7" y="278.8" font-size="11.6" font-weight="bold" stroke="#1a1a1a" stroke-width="0.25">E</text>
<line x1="337.5" y1="297.55" x2="337.5" y2="415.25" stroke="#151515" stroke-width="1.1"/>
<line x1="335.7" y1="414.8" x2="337.5" y2="414.8" stroke="#151515" stroke-width="1.1"/>
<text x="330.9" y="417.79" font-size="8.3" font-weight="bold" textLength="4.1" lengthAdjust="spacingAndGlyphs" stroke="#1a1a1a" stroke-width="0.32">0</text>
<line x1="335.7" y1="391.4" x2="337.5" y2="391.4" stroke="#151515" stroke-width="1.1"/>
<text x="326.8" y="394.39" font-size="8.3" font-weight="bold" textLength="8.2" lengthAdjust="spacingAndGlyphs" stroke="#1a1a1a" stroke-width="0.32">50</text>
<line x1="335.7" y1="368" x2="337.5" y2="368" stroke="#151515" stroke-width="1.1"/>
<text x="322.7" y="370.99" font-size="8.3" font-weight="bold" textLength="12.3" lengthAdjust="spacingAndGlyphs" stroke="#1a1a1a" stroke-width="0.32">100</text>
<line x1="335.7" y1="344.6" x2="337.5" y2="344.6" stroke="#151515" stroke-width="1.1"/>
<text x="322.7" y="347.59" font-size="8.3" font-weight="bold" textLength="12.3" lengthAdjust="spacingAndGlyphs" stroke="#1a1a1a" stroke-width="0.32">150</text>
<line x1="335.7" y1="321.2" x2="337.5" y2="321.2" stroke="#151515" stroke-width="1.1"/>
<text x="322.7" y="324.19" font-size="8.3" font-weight="bold" textLength="12.3" lengthAdjust="spacingAndGlyphs" stroke="#1a1a1a" stroke-width="0.32">200</text>
<line x1="335.7" y1="297.8" x2="337.5" y2="297.8" stroke="#151515" stroke-width="1.1"/>
<text x="322.7" y="300.79" font-size="8.3" font-weight="bold" textLength="12.3" lengthAdjust="spacingAndGlyphs" stroke="#1a1a1a" stroke-width="0.32">250</text>
<text x="319.8" y="426.8" font-size="9.5" font-weight="bold" stroke="#1a1a1a" stroke-width="0.32" transform="rotate(-90 319.8 426.8)" lengthAdjust="spacingAndGlyphs" textLength="106.5">Number of insect traps</text>
<text x="426.3" y="426.8" font-size="9.5" font-weight="bold" stroke="#1a1a1a" stroke-width="0.32" transform="rotate(-90 319.8 426.8)" lengthAdjust="spacingAndGlyphs" textLength="40.5">(pc.×set<tspan dy="-3.3" font-size="5.6">-1</tspan><tspan dy="3.3">)</tspan></text>
<rect x="348.25" y="321.45" width="18.1" height="93.35" fill="#0b6637" stroke="#07502a" stroke-width="0.5"/>
<rect x="366.9" y="401.06" width="18.3" height="13.74" fill="#f4f4f4" stroke="#4a4a4a" stroke-width="0.6"/>
<line x1="357.3" y1="321.2" x2="357.3" y2="312.31" stroke="#111" stroke-width="0.7"/>
<line x1="355.3" y1="312.31" x2="359.3" y2="312.31" stroke="#111" stroke-width="0.7"/>
<circle cx="357.3" cy="304.35" r="0.6" fill="#111"/>
<circle cx="357.3" cy="326.82" r="0.55" fill="#03220f"/>
<circle cx="357.3" cy="332.43" r="0.55" fill="#03220f"/>
<line x1="376" y1="400.76" x2="376" y2="398.42" stroke="#111" stroke-width="0.7"/>
<line x1="374.4" y1="398.42" x2="377.6" y2="398.42" stroke="#111" stroke-width="0.7"/>
<circle cx="376" cy="397.02" r="0.6" fill="#111"/>
<circle cx="376" cy="401.7" r="0.6" fill="#111"/>
<circle cx="376" cy="404.5" r="0.6" fill="#111"/>
<line x1="337" y1="414.8" x2="394.5" y2="414.8" stroke="#151515" stroke-width="1.2"/>
<line x1="357.3" y1="414.8" x2="357.3" y2="416.4" stroke="#151515" stroke-width="0.7"/>
<line x1="376" y1="414.8" x2="376" y2="416.4" stroke="#151515" stroke-width="0.7"/>
<text x="340 346.58 351.41 355.8 360.2 365.02 372.05 376.88 379.95 384.78 389.61" y="427" font-size="8.4" font-weight="bold" font-style="italic" stroke="#1a1a1a" stroke-width="0.25">Muscomorpha</text>
<path d="M357.5 289.1 V287.5 H376.3 V289.1" fill="none" stroke="#111" stroke-width="0.8"/>
<text x="366.9" y="288.7" font-size="5.5" font-weight="bold" text-anchor="middle" stroke="#1a1a1a" stroke-width="0.25">**</text>
<rect x="384.75" y="287.05" width="10" height="4.5" fill="#0b6637" stroke="#07502a" stroke-width="0.5"/>
<text x="400.8 404.68 406.23 410.11 413.99 415.93 418.26 421.74 425.63 427.18 431.06 432.61 436.49 438.04 441.92" y="292.29" font-size="8.3" stroke="#1a1a1a" stroke-width="0.12">Light-shielding</text>
<rect x="384.8" y="296.5" width="9.9" height="5" fill="#fbfbfb" stroke="#4a4a4a" stroke-width="0.6"/>
<text x="400.8 404.7 406.26 410.16 414.06 416.01 418.35 420.3 422.63 426.53 430.43 433.94 439.78 441.34 443.29 445.24 446.8 450.7" y="301.99" font-size="8.3" stroke="#1a1a1a" stroke-width="0.12">Light-transmitting</text>
<text x="484.5" y="278.8" font-size="11.6" font-weight="bold" stroke="#1a1a1a" stroke-width="0.25">F</text>
<line x1="526.5" y1="297.55" x2="526.5" y2="415.95" stroke="#151515" stroke-width="1.1"/>
<line x1="524.7" y1="415.5" x2="526.5" y2="415.5" stroke="#151515" stroke-width="1.1"/>
<text x="509.3" y="418.49" font-size="8.3" font-weight="bold" textLength="14.7" lengthAdjust="spacingAndGlyphs" stroke="#1a1a1a" stroke-width="0.32">0.18</text>
<line x1="524.7" y1="386.12" x2="526.5" y2="386.12" stroke="#151515" stroke-width="1.1"/>
<text x="509.3" y="389.11" font-size="8.3" font-weight="bold" textLength="14.7" lengthAdjust="spacingAndGlyphs" stroke="#1a1a1a" stroke-width="0.32">0.20</text>
<line x1="524.7" y1="356.74" x2="526.5" y2="356.74" stroke="#151515" stroke-width="1.1"/>
<text x="509.3" y="359.73" font-size="8.3" font-weight="bold" textLength="14.7" lengthAdjust="spacingAndGlyphs" stroke="#1a1a1a" stroke-width="0.32">0.22</text>
<line x1="524.7" y1="327.36" x2="526.5" y2="327.36" stroke="#151515" stroke-width="1.1"/>
<text x="509.3" y="330.35" font-size="8.3" font-weight="bold" textLength="14.7" lengthAdjust="spacingAndGlyphs" stroke="#1a1a1a" stroke-width="0.32">0.24</text>
<line x1="524.7" y1="297.98" x2="526.5" y2="297.98" stroke="#151515" stroke-width="1.1"/>
<text x="509.3" y="300.97" font-size="8.3" font-weight="bold" textLength="14.7" lengthAdjust="spacingAndGlyphs" stroke="#1a1a1a" stroke-width="0.32">0.26</text>
<line x1="526" y1="415.5" x2="605" y2="415.5" stroke="#151515" stroke-width="1.2"/>
<line x1="549.3" y1="415.5" x2="549.3" y2="417.9" stroke="#151515" stroke-width="0.8"/>
<line x1="582.9" y1="415.5" x2="582.9" y2="417.9" stroke="#151515" stroke-width="0.8"/>
<line x1="550.8" y1="325.2" x2="581.7" y2="397.6" stroke="#cacaca" stroke-width="1.1" stroke-dasharray="3.6 2.4"/>
<path d="M549.3 319 L552.5 324.6 L546.1 324.6 Z" fill="#b9dba0" stroke="#222" stroke-width="0.5"/>
<path d="M549.3 319 L549.3 324.6 L546.1 324.6 Z" fill="#0c1a12"/>
<path d="M582.9 397.6 L586.1 403.2 L579.7 403.2 Z" fill="#b9dba0" stroke="#222" stroke-width="0.5"/>
<path d="M582.9 397.6 L582.9 403.2 L579.7 403.2 Z" fill="#0c1a12"/>
<text x="473 478.18 482.49 486.81 491.13 493.28 495.01 497.17 499.75 505.36 509.67 512.26 518.72 520.88 526.49 530.8 532.96 534.68" y="359" font-size="7.8" transform="rotate(-90 506 359)" stroke="#1a1a1a" stroke-width="0.12">Benefit-Harm Ratio</text>
<text x="506.3 510.31 511.91 515.92 519.93 521.94 524.34 527.94 531.95 533.55 537.57 539.17 543.18 544.78 548.79" y="422" font-size="8" transform="rotate(-45 552.8 422)" stroke="#1a1a1a" stroke-width="0.12">Light-shielding</text>
<text x="531 535.02 536.63 540.66 544.68 546.69 549.1 551.11 553.52 557.55 561.57 565.19 571.22 572.82 574.83 576.84 578.45 582.48" y="422" font-size="8" transform="rotate(-45 586.5 422)" stroke="#1a1a1a" stroke-width="0.12">Light-transmitting</text>
</svg>
</body>
</html>
